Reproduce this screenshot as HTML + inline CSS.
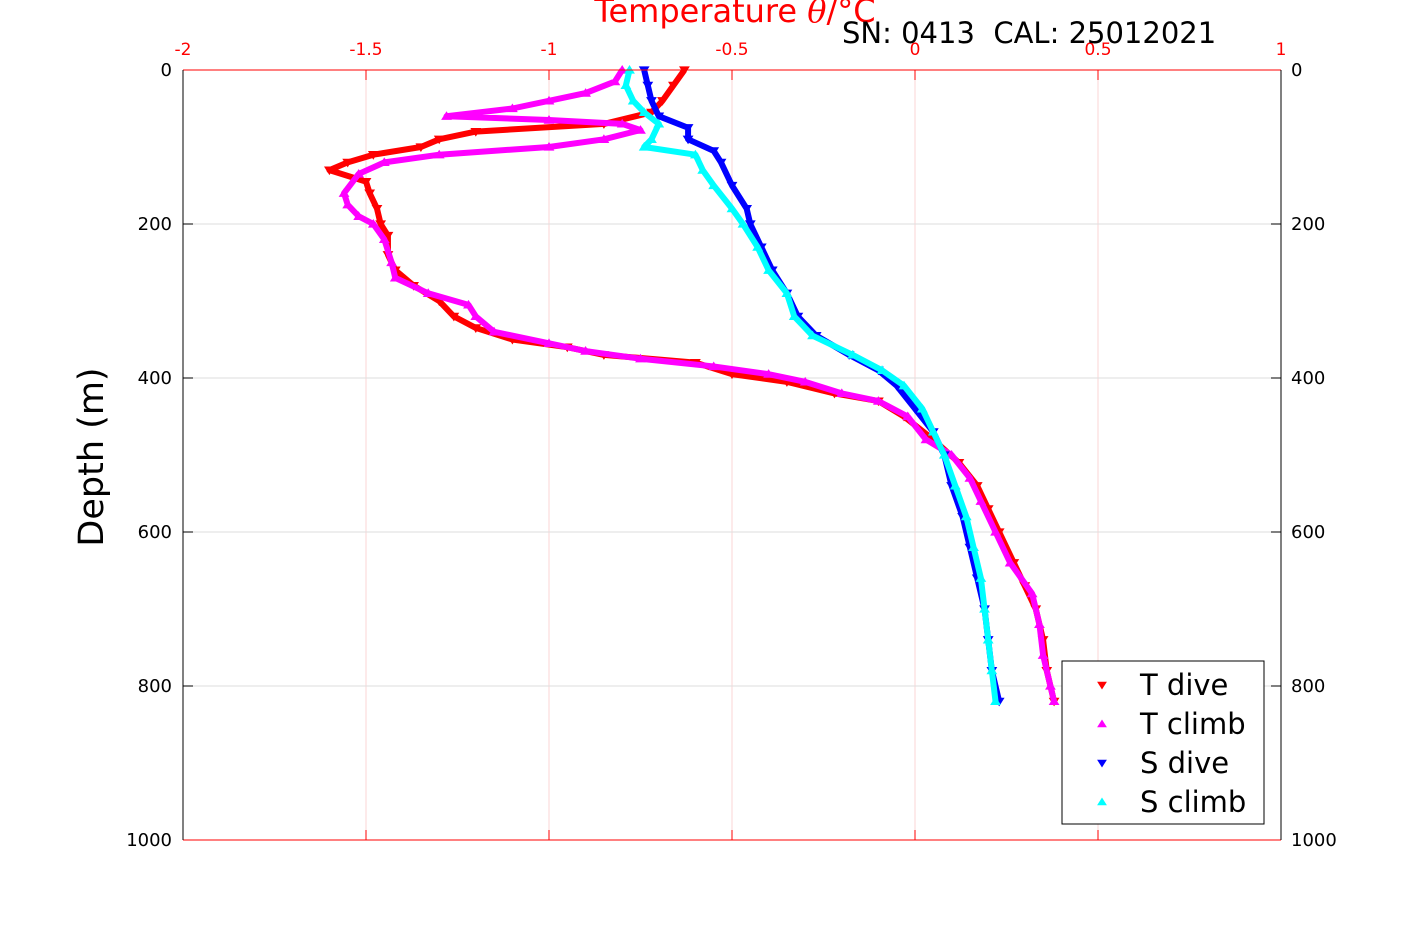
<!DOCTYPE html>
<html><head><meta charset="utf-8"><style>
body{margin:0;background:#fff}
svg text{font-family:"DejaVu Sans","Liberation Sans",sans-serif;white-space:pre}
</style></head><body>
<svg id="c" width="1417" height="945" xmlns="http://www.w3.org/2000/svg">
<rect width="1417" height="945" fill="#fff"/>
<g id="grid"></g>
<g id="series"></g>
<g id="axes"></g>
<text x="735" y="22" font-size="32" fill="#f00" text-anchor="middle">Temperature <tspan font-style="italic" font-family="DejaVu Serif,serif">θ</tspan>/°C</text>
<text x="842" y="43" font-size="29" fill="#000" xml:space="preserve">SN: 0413  CAL: 25012021</text>
<text transform="translate(103,457) rotate(-90)" font-size="35" text-anchor="middle" fill="#000">Depth (m)</text>
<g id="legend">
<rect x="1062" y="661" width="202" height="163" fill="#fff" stroke="#000" stroke-width="1"/>
</g>
</svg>
<script>
const xTicks=[-2,-1.5,-1,-0.5,0,0.5,1];
const xTickLabels=["-2","-1.5","-1","-0.5","0","0.5","1"];
const yTicks=[0,200,400,600,800,1000];
const yTickLabels=["0","200","400","600","800","1000"];
const tDiveDepth=[0,20,40,55,70,80,90,100,110,120,130,145,160,180,200,215,240,260,280,300,320,335,350,360,370,380,395,405,420,430,450,480,510,540,570,600,640,670,700,740,780,820];
const tDiveVal=[-0.63,-0.66,-0.69,-0.72,-0.85,-1.2,-1.3,-1.35,-1.48,-1.55,-1.6,-1.5,-1.49,-1.47,-1.46,-1.44,-1.44,-1.42,-1.37,-1.3,-1.26,-1.2,-1.1,-0.95,-0.85,-0.6,-0.5,-0.35,-0.22,-0.1,-0.03,0.05,0.12,0.17,0.2,0.23,0.27,0.3,0.33,0.35,0.36,0.38];
const tClimbDepth=[0,15,30,40,50,60,65,70,78,90,100,110,120,135,160,175,190,200,220,250,270,290,305,320,340,355,365,375,385,395,405,420,430,450,480,500,530,560,600,640,680,720,760,800,820];
const tClimbVal=[-0.8,-0.82,-0.9,-1.0,-1.1,-1.28,-1.0,-0.8,-0.75,-0.85,-1.0,-1.3,-1.45,-1.52,-1.56,-1.55,-1.52,-1.48,-1.45,-1.43,-1.42,-1.33,-1.22,-1.2,-1.15,-1.0,-0.9,-0.75,-0.55,-0.4,-0.3,-0.2,-0.1,-0.02,0.03,0.1,0.15,0.18,0.22,0.26,0.32,0.34,0.35,0.37,0.38];
const sDiveDepth=[0,20,40,60,75,90,105,120,150,180,200,230,260,290,320,345,370,390,410,440,470,500,540,580,620,660,700,740,780,820];
const sDiveVal=[-0.74,-0.73,-0.72,-0.7,-0.62,-0.62,-0.55,-0.53,-0.5,-0.46,-0.45,-0.42,-0.39,-0.35,-0.32,-0.27,-0.18,-0.1,-0.05,0.0,0.05,0.08,0.1,0.13,0.15,0.17,0.19,0.2,0.21,0.23];
const sClimbDepth=[0,20,40,55,70,90,100,110,130,150,180,200,230,260,290,320,345,370,390,410,440,470,500,540,580,620,660,700,740,780,820];
const sClimbVal=[-0.78,-0.79,-0.77,-0.74,-0.7,-0.72,-0.74,-0.6,-0.58,-0.55,-0.5,-0.47,-0.43,-0.4,-0.35,-0.33,-0.28,-0.17,-0.09,-0.03,0.02,0.05,0.08,0.11,0.14,0.16,0.18,0.19,0.2,0.21,0.22];

const X0=183,X1=1281,Y0=70,Y1=840;
const xs=v=>X0+(v+2)/3*(X1-X0);
const ys=d=>Y0+d/1000*(Y1-Y0);
const NS="http://www.w3.org/2000/svg";
function mk(tag,attrs,parent){const e=document.createElementNS(NS,tag);for(const k in attrs)e.setAttribute(k,attrs[k]);parent.appendChild(e);return e;}
const grid=document.getElementById('grid'),axes=document.getElementById('axes'),ser=document.getElementById('series');
xTicks.forEach((t,i)=>{
  const l=mk('line',{x1:xs(t),x2:xs(t),y1:Y0,y2:Y1,stroke:'#fbd6d6','stroke-width':1},grid);
  
  
  const a=mk('line',{x1:xs(t),x2:xs(t),y1:Y0,y2:Y0+10,stroke:'#f00'},axes);
  
  
  const b=mk('line',{x1:xs(t),x2:xs(t),y1:Y1,y2:Y1-10,stroke:'#f00'},axes);
  
  
  const tx=mk('text',{x:xs(t),y:55,'font-size':17,fill:'#f00','text-anchor':'middle'},axes);
  tx.textContent=xTickLabels[i];
  
  
});
yTicks.forEach((t,i)=>{
  const l=mk('line',{x1:X0,x2:X1,y1:ys(t),y2:ys(t),stroke:'#dedede','stroke-width':1},grid);
  
  
  const a=mk('line',{x1:X0,x2:X0+10,y1:ys(t),y2:ys(t),stroke:'#000'},axes);
  
  
  const b=mk('line',{x1:X1-10,x2:X1,y1:ys(t),y2:ys(t),stroke:'#000'},axes);
  
  
  const tl=mk('text',{x:172,y:ys(t)+6,'font-size':18,fill:'#000','text-anchor':'end'},axes);
  tl.textContent=yTickLabels[i];
  
  
  const tr=mk('text',{x:1291,y:ys(t)+6,'font-size':18,fill:'#000'},axes);
  tr.textContent=yTickLabels[i];
  
  
});
[[X0,Y0,X1,Y0,'#f00'],[X0,Y1,X1,Y1,'#f00'],[X0,Y0,X0,Y1,'#000'],[X1,Y0,X1,Y1,'#000']].forEach(s=>{
  const l=mk('line',{x1:s[0],y1:s[1],x2:s[2],y2:s[3],stroke:s[4],'stroke-width':1},axes);
  
  
});
function tri(x,y,down,col,parent,r){
  const p=down?`${x-r},${y-r*0.7} ${x+r},${y-r*0.7} ${x},${y+r*0.9}`:`${x-r},${y+r*0.7} ${x+r},${y+r*0.7} ${x},${y-r*0.9}`;
  return mk('polygon',{points:p,fill:col,stroke:col},parent);
}
function series(name,dep,val,col,down){
  const g=mk('g',{},ser);
  
  
  const pts=dep.map((d,i)=>xs(val[i])+','+ys(d)).join(' ');
  const pl=mk('polyline',{points:pts,fill:'none',stroke:col,'stroke-width':6,'stroke-linejoin':'round'},g);
  
  
  dep.forEach((d,i)=>{
    const m=tri(xs(val[i]),ys(d),down,col,g,4.5);
    
    
  });
}
series('t-dive-series',tDiveDepth,tDiveVal,'#f00',true);
series('t-climb-series',tClimbDepth,tClimbVal,'#f0f',false);
series('s-dive-series',sDiveDepth,sDiveVal,'#00f',true);
series('s-climb-series',sClimbDepth,sClimbVal,'#0ff',false);
const leg=document.getElementById('legend');
[['T dive','#f00',true],['T climb','#f0f',false],['S dive','#00f',true],['S climb','#0ff',false]].forEach((e,i)=>{
  const y=685+i*39;
  const m=tri(1102,y,e[2],e[1],leg,4);
  
  
  const t=mk('text',{x:1140,y:y+10,'font-size':29,fill:'#000'},leg);
  t.textContent=e[0];
  
  
});
</script>
</body></html>
